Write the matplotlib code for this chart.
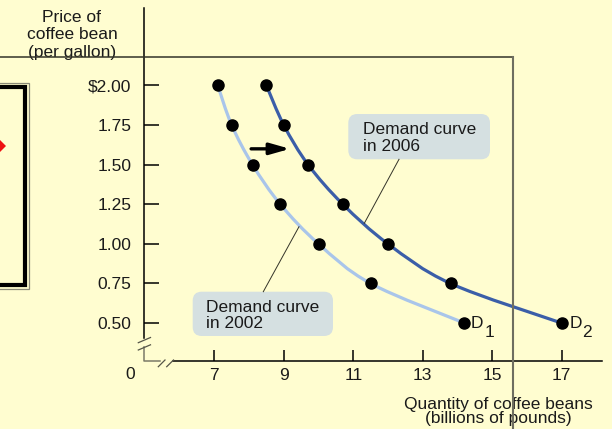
import matplotlib
matplotlib.use("Agg")
import matplotlib.pyplot as plt
import numpy as np
from matplotlib.path import Path
from matplotlib.patches import PathPatch, FancyBboxPatch, Rectangle, Polygon
from matplotlib.lines import Line2D
from matplotlib.transforms import Affine2D

# ---------------- data ----------------
price = [2.00, 1.75, 1.50, 1.25, 1.00, 0.75, 0.50]
qty_2002 = [7.1, 7.5, 8.1, 8.9, 10.0, 11.5, 14.2]
qty_2006 = [8.5, 9.0, 9.7, 10.7, 12.0, 13.8, 17.0]
x_ticks = [7, 9, 11, 13, 15, 17]
x_tick_labels = ["7", "9", "11", "13", "15", "17"]
y_ticks = [0.50, 0.75, 1.00, 1.25, 1.50, 1.75, 2.00]
y_tick_labels = ["0.50", "0.75", "1.00", "1.25", "1.50", "1.75", "$2.00"]
shift_price = 1.60          # price level of the shift arrow
shift_from, shift_to = 8.06, 9.18

# ---------------- style ----------------
W, H = 612, 429
BG = "#fffdd0"
TXT = "#1a1a1a"
LIGHT = "#a9c5ea"
DARK = "#3b5ea8"
BOX = "#d5e0e1"
FONT = "Liberation Sans"
FS = 12.5

plt.rcParams["font.family"] = [FONT, "DejaVu Sans"]

fig = plt.figure(figsize=(W / 100, H / 100), dpi=100, facecolor=BG)
# pixel (image) coordinates, y downward
PX = Affine2D().scale(1 / W, -1 / H).translate(0, 1) + fig.transFigure

# axes geometry (pixels)
ax_l, ax_r, ax_t, ax_b = 144.3, 601.7, 8.0, 361.0
ax = fig.add_axes([ax_l / W, 1 - ax_b / H, (ax_r - ax_l) / W, (ax_b - ax_t) / H])
ax.set_facecolor("none")

ax.set_xlim(4.985, 18.151)
ax.set_ylim(0.2607, 2.489)

for s in ("top", "right"):
    ax.spines[s].set_visible(False)
ax.spines["left"].set_bounds(0.406, 2.489)
ax.spines["bottom"].set_bounds(5.797, 18.151)
for s in ("left", "bottom"):
    ax.spines[s].set_linewidth(1.1)
    ax.spines[s].set_color("black")

ax.set_xticks(x_ticks)
ax.set_xticklabels(x_tick_labels)
ax.set_yticks(y_ticks)
ax.set_yticklabels(y_tick_labels)
ax.tick_params(axis="y", direction="in", length=10.6, width=1.1, pad=9.1,
               labelsize=FS, labelcolor=TXT)
ax.tick_params(axis="x", direction="in", length=7.9, width=1.1, pad=4.7,
               labelsize=FS, labelcolor=TXT)


def smooth_path(xs, ys):
    P = np.column_stack([xs, ys]).astype(float)
    n = len(P)
    verts = [P[0]]
    codes = [Path.MOVETO]
    for i in range(n - 1):
        p0 = P[i - 1] if i > 0 else P[i]
        p1, p2 = P[i], P[i + 1]
        p3 = P[i + 2] if i + 2 < n else P[i + 1]
        verts += [p1 + (p2 - p0) / 6, p2 - (p3 - p1) / 6, p2]
        codes += [Path.CURVE4] * 3
    return Path(verts, codes)


ax.add_patch(PathPatch(smooth_path(qty_2002, price), fill=False,
                       edgecolor=LIGHT, lw=2.3, capstyle="round", zorder=2))
ax.add_patch(PathPatch(smooth_path(qty_2006, price), fill=False,
                       edgecolor=DARK, lw=2.3, capstyle="round", zorder=2))
ax.plot(qty_2002, price, "o", color="black", ms=8, zorder=3, clip_on=False)
ax.plot(qty_2006, price, "o", color="black", ms=8, zorder=3, clip_on=False)

ax.annotate("", xy=(shift_to, shift_price), xytext=(shift_from, shift_price),
            arrowprops=dict(arrowstyle="-|>,head_length=0.6,head_width=0.17",
                            lw=2.4, color="black", mutation_scale=20,
                            shrinkA=0, shrinkB=0))

# ---------------- decorations in pixel coords ----------------
def fline(xs, ys, **kw):
    fig.add_artist(Line2D(xs, ys, transform=PX, **kw))

# axis breaks and origin corner
fline([144.3, 144.3, 159.5], [346.5, 361, 361], color="#7a7a68", lw=1.1)
fline([138.3, 150.5], [342.7, 337.5], color="#555548", lw=0.9)
fline([138.3, 150.5], [350.0, 344.8], color="#555548", lw=0.9)
fline([158.3, 165.0], [366.7, 360.0], color="#555548", lw=0.9)
fline([166.7, 173.5], [366.7, 360.0], color="#555548", lw=0.9)

# frame lines from the surrounding page
fline([0, 513], [57.3, 57.3], color="#333328", lw=1.1, zorder=5)
fline([513, 513], [57.3, 429], color="#6e6e60", lw=1.5, zorder=5)

# left panel fragment
fig.add_artist(Rectangle((-30, 83.3), 58.8, 206.0, transform=PX, fill=False,
                         edgecolor="#8a8a78", lw=0.9))
fig.add_artist(Rectangle((-30, 87.2), 55.3, 198.0, transform=PX, fill=False,
                         edgecolor="black", lw=3.0))
fig.add_artist(Polygon([(6, 146), (0, 140), (-6, 146), (0, 152)], closed=True,
                       transform=PX, facecolor="#ee1111", edgecolor="none"))

# callout boxes
fig.add_artist(FancyBboxPatch((348.3, 114.0), 141.7, 45.3, transform=PX,
                              boxstyle="round,pad=0,rounding_size=9",
                              facecolor=BOX, edgecolor="none", zorder=1))
fig.add_artist(FancyBboxPatch((192.7, 291.7), 140.3, 44.3, transform=PX,
                              boxstyle="round,pad=0,rounding_size=9",
                              facecolor=BOX, edgecolor="none", zorder=1))
fline([399.0, 364.3], [159.3, 223.3], color="#333328", lw=0.7)
fline([263.3, 299.0], [291.7, 226.7], color="#333328", lw=0.7)


def ftext(x, y, s, ha="left", size=FS, **kw):
    fig.text(x / W, 1 - y / H, s, ha=ha, va="baseline", fontsize=size,
             color=TXT, **kw)


ftext(362.7, 134.0, "Demand curve")
ftext(362.7, 151.0, "in 2006")
ftext(206.0, 311.7, "Demand curve")
ftext(206.0, 328.3, "in 2002")

ftext(72.0, 21.5, "Price of", ha="center")
ftext(72.0, 39.0, "coffee bean", ha="center")
ftext(72.0, 57.0, "(per gallon)", ha="center")

ftext(498.0, 409.0, "Quantity of coffee beans", ha="center")
ftext(498.0, 423.0, "(billions of pounds)", ha="center")

ftext(129.7, 379.3, "0", ha="center")

ftext(471.0, 328.3, "D")
ftext(485.0, 336.7, "1")
ftext(569.3, 328.3, "D")
ftext(582.5, 336.7, "2")

fig.savefig("out.png", dpi=100, facecolor=BG)
